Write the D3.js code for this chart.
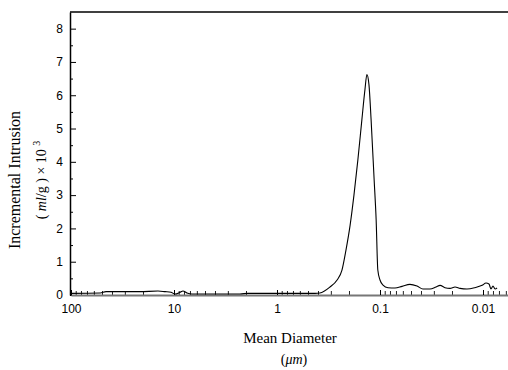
<!DOCTYPE html>
<html>
<head>
<meta charset="utf-8">
<script src="https://cdn.jsdelivr.net/npm/d3@7"></script>
<style>
  body { margin: 0; background: #fff; }
  svg { display: block; }
</style>
</head>
<body>
<svg id="chart"></svg>
<script>
// mean diameter (um) and incremental intrusion (ml/g x 10^3)
const diameters = [
  100, 52, 45.7, 21.4, 14.3, 12.2, 10.7, 9.77, 8.75, 8.18, 7.48, 6.69, 2.29, 1.91,
  0.598, 0.428, 0.383, 0.306, 0.261, 0.234, 0.214, 0.195, 0.179, 0.164, 0.15,
  0.14, 0.134, 0.128, 0.122, 0.114, 0.109, 0.105, 0.1, 0.0935, 0.0836, 0.0715,
  0.0611, 0.0512, 0.0437, 0.0383, 0.0327, 0.0286, 0.0261, 0.0234, 0.0209,
  0.0187, 0.0167, 0.0143, 0.012, 0.0102, 0.00935, 0.00875, 0.00836, 0.008,
  0.00764, 0.0073
];
const intrusion = [
  0.05, 0.06, 0.1, 0.1, 0.12, 0.1, 0.08, 0.03, 0.08, 0.12, 0.06, 0.03, 0.03, 0.05,
  0.05, 0.05, 0.06, 0.24, 0.45, 0.75, 1.35, 2.1, 3.0, 4.06, 5.26,
  6.17, 6.62, 6.32, 5.26, 3.46, 2.26, 0.75, 0.45, 0.3, 0.22, 0.21,
  0.26, 0.32, 0.27, 0.18, 0.18, 0.24, 0.29, 0.22, 0.2,
  0.24, 0.2, 0.18, 0.22, 0.29, 0.36, 0.33, 0.18, 0.27,
  0.18, 0.21
];
const xTickValues = [100, 10, 1, 0.1, 0.01];
const xTickLabels = ["100", "10", "1", "0.1", "0.01"];
const yTickValues = [0, 1, 2, 3, 4, 5, 6, 7, 8];
const yMinorValues = [0.5, 1.5, 2.5, 3.5, 4.5, 5.5, 6.5, 7.5];

const width = 508, height = 370;
const plotLeft = 70, plotTop = 12, plotBottom = 295;

const svg = d3.select("#chart").attr("width", width).attr("height", height);

const x = d3.scaleLog().domain([100, 0.01]).range([71, 483]);
x.domain([100, x.invert(width)]).range([71, width]);

const y = d3.scaleLinear().domain([0, 8.5]).range([plotBottom, plotTop]);

// frame top line
svg.append("line")
  .attr("x1", plotLeft).attr("x2", width)
  .attr("y1", plotTop).attr("y2", plotTop)
  .attr("stroke", "#000").attr("stroke-width", 1.5);

// y axis, ticks pointing inward
const yAxis = svg.append("g")
  .attr("transform", `translate(${plotLeft},0)`)
  .call(d3.axisLeft(y).tickValues(yTickValues).tickSizeInner(-6).tickSizeOuter(0).tickPadding(7));
yAxis.select(".domain").attr("stroke-width", 1.5);
yAxis.selectAll("text")
  .attr("font-family", "Liberation Sans, Arial, sans-serif")
  .attr("font-size", 12).attr("fill", "#000");

svg.append("g")
  .attr("transform", `translate(${plotLeft},0)`)
  .call(d3.axisLeft(y).tickValues(yMinorValues).tickSize(-3).tickFormat(""))
  .select(".domain").remove();

// x axis (log, reversed), ticks pointing up
const minorTicks = x.ticks().filter((d) => d < 100);
svg.append("g")
  .attr("transform", `translate(0,${plotBottom})`)
  .call(d3.axisBottom(x).tickValues(minorTicks).tickSize(-4).tickFormat(""))
  .call((g) => g.select(".domain").remove())
  .selectAll("line").attr("stroke", "#222");

const xAxis = svg.append("g")
  .attr("transform", `translate(0,${plotBottom})`)
  .call(
    d3.axisBottom(x)
      .tickValues(xTickValues)
      .tickSizeInner(-5)
      .tickSizeOuter(0)
      .tickPadding(9)
      .tickFormat((d, i) => xTickLabels[i])
  );
xAxis.select(".domain").attr("stroke", "#777").attr("stroke-width", 2);
xAxis.selectAll("text")
  .attr("font-family", "Liberation Sans, Arial, sans-serif")
  .attr("font-size", 12).attr("fill", "#000");

// curve
const points = diameters.map((d, i) => ({ d: d, v: intrusion[i] }));
const line = d3.line()
  .x((p) => x(p.d))
  .y((p) => y(p.v))
  .curve(d3.curveMonotoneX);

svg.append("path")
  .datum(points)
  .attr("fill", "none")
  .attr("stroke", "#000")
  .attr("stroke-width", 1.1)
  .attr("d", line);

// titles
const serif = "Liberation Serif, Times New Roman, serif";
svg.append("text")
  .attr("x", 290).attr("y", 343)
  .attr("text-anchor", "middle")
  .attr("font-family", serif).attr("font-size", 15)
  .text("Mean Diameter");

svg.append("text")
  .attr("x", 294).attr("y", 364)
  .attr("text-anchor", "middle")
  .attr("font-family", serif).attr("font-size", 14)
  .html('(<tspan font-style="italic">μm</tspan>)');

svg.append("text")
  .attr("transform", "translate(20,180) rotate(-90)")
  .attr("text-anchor", "middle")
  .attr("font-family", serif).attr("font-size", 16)
  .text("Incremental Intrusion");

svg.append("text")
  .attr("transform", "translate(46,180) rotate(-90)")
  .attr("text-anchor", "middle")
  .attr("font-family", serif).attr("font-size", 14)
  .html('( <tspan font-style="italic">ml</tspan>/g ) × 10 <tspan dy="-6" font-size="10">3</tspan>');
</script>
</body>
</html>
